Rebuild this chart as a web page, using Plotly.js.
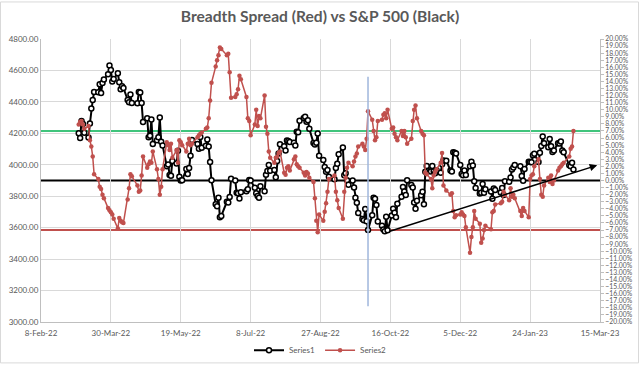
<!DOCTYPE html>
<html>
<head>
<meta charset="utf-8">
<script src="https://cdn.plot.ly/plotly-3.0.1.min.js"></script>
<style>
html,body{margin:0;padding:0;background:#fff;}
#chart{width:640px;height:377px;}
</style>
</head>
<body>
<div id="chart"></div>
<script>
// ---- data ----
const dates = [
'2022-03-07','2022-03-08','2022-03-09','2022-03-10','2022-03-11','2022-03-14','2022-03-15','2022-03-16','2022-03-17','2022-03-18','2022-03-21','2022-03-22','2022-03-23','2022-03-24','2022-03-25','2022-03-28','2022-03-29','2022-03-30','2022-03-31',
'2022-04-01','2022-04-04','2022-04-05','2022-04-06','2022-04-07','2022-04-08','2022-04-11','2022-04-12','2022-04-13','2022-04-14','2022-04-18','2022-04-19','2022-04-20','2022-04-21','2022-04-22','2022-04-25','2022-04-26','2022-04-27','2022-04-28','2022-04-29',
'2022-05-02','2022-05-03','2022-05-04','2022-05-05','2022-05-06','2022-05-09','2022-05-10','2022-05-11','2022-05-12','2022-05-13','2022-05-16','2022-05-17','2022-05-18','2022-05-19','2022-05-20','2022-05-23','2022-05-24','2022-05-25','2022-05-26','2022-05-27','2022-05-31',
'2022-06-01','2022-06-02','2022-06-03','2022-06-06','2022-06-07','2022-06-08','2022-06-09','2022-06-10','2022-06-13','2022-06-14','2022-06-15','2022-06-16','2022-06-17','2022-06-21','2022-06-22','2022-06-23','2022-06-24','2022-06-27','2022-06-28','2022-06-29','2022-06-30',
'2022-07-01','2022-07-05','2022-07-06','2022-07-07','2022-07-08','2022-07-11','2022-07-12','2022-07-13','2022-07-14','2022-07-15','2022-07-18','2022-07-19','2022-07-20','2022-07-21','2022-07-22','2022-07-25','2022-07-26','2022-07-27','2022-07-28','2022-07-29',
'2022-08-01','2022-08-02','2022-08-03','2022-08-04','2022-08-05','2022-08-08','2022-08-09','2022-08-10','2022-08-11','2022-08-12','2022-08-15','2022-08-16','2022-08-17','2022-08-18','2022-08-19','2022-08-22','2022-08-23','2022-08-24','2022-08-25','2022-08-26','2022-08-29','2022-08-30','2022-08-31',
'2022-09-01','2022-09-02','2022-09-06','2022-09-07','2022-09-08','2022-09-09','2022-09-12','2022-09-13','2022-09-14','2022-09-15','2022-09-16','2022-09-19','2022-09-20','2022-09-21','2022-09-22','2022-09-23','2022-09-26','2022-09-27','2022-09-28','2022-09-29','2022-09-30',
'2022-10-03','2022-10-04','2022-10-05','2022-10-06','2022-10-07','2022-10-10','2022-10-11','2022-10-12','2022-10-13','2022-10-14','2022-10-17','2022-10-18','2022-10-19','2022-10-20','2022-10-21','2022-10-24','2022-10-25','2022-10-26','2022-10-27','2022-10-28','2022-10-31',
'2022-11-01','2022-11-02','2022-11-03','2022-11-04','2022-11-07','2022-11-08','2022-11-09','2022-11-10','2022-11-11','2022-11-14','2022-11-15','2022-11-16','2022-11-17','2022-11-18','2022-11-21','2022-11-22','2022-11-23','2022-11-25','2022-11-28','2022-11-29','2022-11-30',
'2022-12-01','2022-12-02','2022-12-05','2022-12-06','2022-12-07','2022-12-08','2022-12-09','2022-12-12','2022-12-13','2022-12-14','2022-12-15','2022-12-16','2022-12-19','2022-12-20','2022-12-21','2022-12-22','2022-12-23','2022-12-27','2022-12-28','2022-12-29','2022-12-30',
'2023-01-03','2023-01-04','2023-01-05','2023-01-06','2023-01-09','2023-01-10','2023-01-11','2023-01-12','2023-01-13','2023-01-17','2023-01-18','2023-01-19','2023-01-20','2023-01-23','2023-01-24','2023-01-25','2023-01-26','2023-01-27','2023-01-30','2023-01-31',
'2023-02-01','2023-02-02','2023-02-03','2023-02-06','2023-02-07','2023-02-08','2023-02-09','2023-02-10','2023-02-13','2023-02-14','2023-02-15','2023-02-16','2023-02-17','2023-02-21','2023-02-22','2023-02-23','2023-02-24'
];

// Series1: S&P 500 (left axis)
const series1 = [
4201.09,4170.70,4277.88,4259.52,4204.31,4173.11,4262.45,4357.86,4411.67,4463.12,4461.18,4511.61,4456.24,4520.16,4543.06,4575.52,4631.60,4602.45,4530.41,
4545.86,4582.64,4525.12,4481.15,4500.21,4488.28,4412.53,4397.45,4446.59,4392.59,4391.69,4462.21,4459.45,4393.66,4271.78,4296.12,4175.20,4183.96,4287.50,4131.93,
4155.38,4175.48,4300.17,4146.87,4123.34,3991.24,4001.05,3935.18,3930.08,4023.89,4008.01,4088.85,3923.68,3900.79,3901.36,3973.75,3941.48,3978.73,4057.84,4158.24,4132.15,
4101.23,4176.82,4108.54,4121.43,4160.68,4115.77,4017.82,3900.86,3749.63,3735.48,3789.99,3666.77,3674.84,3764.79,3759.89,3795.73,3911.74,3900.11,3821.55,3818.83,3785.38,
3825.33,3831.39,3845.08,3902.62,3899.38,3854.43,3818.80,3801.78,3790.38,3863.16,3830.85,3936.69,3959.90,3998.95,3961.63,3966.84,3921.05,4023.61,4072.43,4130.29,
4118.63,4091.19,4155.17,4151.94,4145.19,4140.06,4122.47,4210.24,4207.27,4280.15,4297.14,4305.20,4274.04,4283.74,4228.48,4137.99,4128.73,4140.77,4199.12,4057.66,4030.61,3986.16,3955.00,
3966.85,3924.26,3908.19,3979.87,4006.18,4067.36,4110.41,3932.69,3946.01,3901.35,3873.33,3899.89,3855.93,3789.93,3757.99,3693.23,3655.04,3647.29,3719.04,3640.47,3585.62,
3678.43,3790.93,3783.28,3744.52,3639.66,3612.39,3588.84,3577.03,3669.91,3583.07,3677.95,3719.98,3695.16,3665.78,3752.75,3797.34,3859.11,3830.60,3807.30,3901.06,3871.98,
3856.10,3759.69,3719.89,3770.55,3806.80,3828.11,3748.57,3956.37,3992.93,3957.25,3991.73,3958.79,3946.56,3965.34,3949.94,4003.58,4027.26,4026.12,3963.94,3957.63,4080.11,
4076.57,4071.70,3998.84,3941.26,3933.92,3963.51,3934.38,3990.56,4019.65,3995.32,3895.75,3852.36,3817.66,3821.62,3878.44,3822.39,3844.82,3829.25,3783.22,3849.28,3839.50,
3824.14,3852.97,3808.10,3895.08,3892.09,3919.25,3969.61,3983.17,3999.09,3990.97,3928.86,3898.85,3972.61,4019.81,4016.95,4016.22,4060.43,4070.56,4017.77,4076.60,
4119.21,4179.76,4136.48,4111.08,4164.00,4117.86,4081.50,4090.46,4137.29,4136.13,4147.60,4090.41,4079.09,3997.34,3991.05,4012.32,3970.04
];

// Series2: breadth spread in % (right axis)
const series2 = [
7.9,8.3,8.4,7.9,7.3,7.7,5.7,4.8,3.4,0.9,0.2,-0.9,-1.2,-2.0,-2.5,-3.9,-4.2,-4.5,-4.8,
-5.4,-6.8,-5.3,-5.7,-5.9,-6.0,-2.7,-1.1,0.9,0.6,-0.7,-1.6,-1.4,0.7,3.4,1.8,2.3,2.7,2.5,4.1,
1.6,0.2,-2.0,-0.9,1.6,5.4,5.0,4.3,5.2,3.2,4.3,2.5,5.7,5.4,5.0,4.1,5.2,5.9,5.0,5.2,6.1,
6.4,6.6,6.8,7.3,7.5,8.8,11.3,13.8,16.1,17.0,17.7,18.8,18.6,17.7,17.9,15.3,11.7,11.8,12.2,12.9,14.8,
14.3,11.8,8.8,8.4,6.4,7.9,10.0,7.7,9.1,8.8,12.0,7.6,6.6,4.1,3.2,2.5,3.2,3.4,3.9,4.1,
1.1,0.8,1.8,2.0,1.4,3.0,3.4,2.3,2.0,1.8,1.1,0.7,1.2,1.0,0.4,-0.2,-2.5,-5.7,-7.3,-4.8,-5.7,-4.4,-3.2,
-1.6,0.2,0.7,-1.6,-2.8,-3.9,-5.4,-1.6,0.4,1.8,2.5,2.0,2.7,3.4,3.8,4.8,5.2,4.8,4.3,5.9,9.8,
8.6,7.0,5.7,6.1,8.4,8.6,9.3,9.5,8.8,10.0,7.3,7.5,6.6,6.1,5.7,7.0,6.3,7.0,6.1,5.2,5.9,
8.4,10.0,10.6,8.8,7.0,6.6,6.4,1.1,0.9,0.2,-1.1,0.7,1.2,1.6,2.5,3.9,-0.7,-1.4,-2.0,-1.8,-4.3,
-5.2,-4.9,-4.8,-4.5,-4.8,-5.0,-6.6,-10.2,-8.0,-6.6,-4.3,-5.4,-6.1,-8.8,-8.2,-7.0,-6.4,-6.9,-4.5,-4.3,-3.4,
-3.2,-3.0,-1.6,-2.0,-2.8,-1.1,-2.3,-2.0,-2.5,-4.3,-5.0,-3.9,-4.3,-5.2,0.2,0.7,0.9,2.0,3.0,0.2,
-2.0,-2.3,-0.7,0.4,-0.2,0.7,-0.5,0.0,1.4,1.8,2.0,2.3,2.5,3.4,4.5,4.8,7.0
];

// reference levels on the right (%) axis
const upperBand = 7;
const midLine = 0;
const lowerBand = -7;
// vertical marker (date, left-axis span)
const markerDate = '2022-09-30';
const markerSpan = [3100, 4560];
// trend arrow (date, S&P value)
const trendFrom = ['2022-10-14', 3573];
const trendTo = ['2023-03-13', 3997];

const xRange = ['2022-02-08', '2023-03-15'];
const leftRange = [3000, 4800];
const rightRange = [-20, 20];

// ---- chart ----
const txt = '#595959';
const fontFam = 'Lato, "Open Sans", sans-serif';

const traces = [
  {
    x: dates, y: series1, name: 'Series1', type: 'scatter', mode: 'lines+markers',
    line: {color: '#000000', width: 2},
    marker: {symbol: 'circle', size: 5, color: '#ffffff', line: {color: '#000000', width: 1.5}},
    yaxis: 'y'
  },
  {
    x: dates, y: series2, name: 'Series2', type: 'scatter', mode: 'lines+markers',
    line: {color: '#c0504d', width: 1.5},
    marker: {symbol: 'circle', size: 4.5, color: '#c0504d'},
    yaxis: 'y2'
  }
];

const layout = {
  width: 640, height: 377,
  margin: {l: 41, r: 40, t: 39, b: 44, pad: 0},
  paper_bgcolor: '#ffffff', plot_bgcolor: '#ffffff',
  font: {family: fontFam, color: txt, size: 8},
  showlegend: true,
  title: {
    text: 'Breadth Spread (Red) vs S&P 500 (Black)',
    font: {family: fontFam, size: 15.6, color: txt, weight: 'bold'},
    x: 0.5, xanchor: 'center', y: 1 - 17/377, yanchor: 'middle', yref: 'container'
  },
  xaxis: {
    type: 'date', range: xRange,
    tickmode: 'linear', tick0: xRange[0], dtick: 50*86400000,
    tickformat: '%-d-%b-%y',
    showgrid: true, gridcolor: '#d9d9d9', gridwidth: 1,
    showline: true, linecolor: '#bfbfbf', linewidth: 1,
    ticks: '', zeroline: false, ticklabelstandoff: 3,
    tickfont: {size: 8, color: txt, family: fontFam}
  },
  yaxis: {
    range: leftRange, tickmode: 'linear', tick0: 3000, dtick: 200,
    tickformat: '.2f',
    showgrid: true, gridcolor: '#d9d9d9', gridwidth: 1,
    showline: true, linecolor: '#bfbfbf', linewidth: 1,
    zeroline: false, ticks: '',
    tickfont: {size: 8, color: txt, family: fontFam}
  },
  yaxis2: {
    overlaying: 'y', side: 'right', anchor: 'x',
    range: rightRange, tickmode: 'linear', tick0: -20, dtick: 1,
    tickformat: '.2f', ticksuffix: '%',
    showgrid: false, zeroline: false,
    showline: true, linecolor: '#bfbfbf', linewidth: 1,
    ticks: 'outside', ticklen: 3, tickcolor: '#bfbfbf',
    tickfont: {size: 6.8, color: txt, family: fontFam}
  },
  legend: {
    orientation: 'h', x: 0.5, xanchor: 'center', y: -0.1, yanchor: 'middle',
    font: {size: 8, color: txt, family: fontFam},
    bgcolor: 'rgba(0,0,0,0)', itemwidth: 30
  },
  shapes: [
    {type: 'line', xref: 'paper', x0: 0, x1: 1, yref: 'y2', y0: upperBand, y1: upperBand,
     line: {color: '#00b050', width: 1.5}, layer: 'below'},
    {type: 'line', xref: 'paper', x0: 0, x1: 1, yref: 'y2', y0: midLine, y1: midLine,
     line: {color: '#000000', width: 2}, layer: 'below'},
    {type: 'line', xref: 'paper', x0: 0, x1: 1, yref: 'y2', y0: lowerBand, y1: lowerBand,
     line: {color: '#c0504d', width: 2}, layer: 'below'},
    {type: 'line', xref: 'x', x0: markerDate, x1: markerDate, yref: 'y', y0: markerSpan[0], y1: markerSpan[1],
     line: {color: '#9fb6dc', width: 1.5}, layer: 'above'},
    {type: 'rect', xref: 'paper', yref: 'paper',
     x0: (0.5-41)/559, x1: (638.5-41)/559, y0: (333-375.5)/294, y1: (333-0.5)/294,
     line: {color: '#d9d9d9', width: 1}, fillcolor: 'rgba(0,0,0,0)', layer: 'below'}
  ],
  annotations: [
    {x: trendTo[0], y: trendTo[1], xref: 'x', yref: 'y',
     ax: trendFrom[0], ay: trendFrom[1], axref: 'x', ayref: 'y',
     text: '', showarrow: true, arrowhead: 2, arrowsize: 1, arrowwidth: 1.5, arrowcolor: '#000000'}
  ]
};

Plotly.newPlot('chart', traces, layout, {staticPlot: true, displayModeBar: false});
</script>
</body>
</html>
